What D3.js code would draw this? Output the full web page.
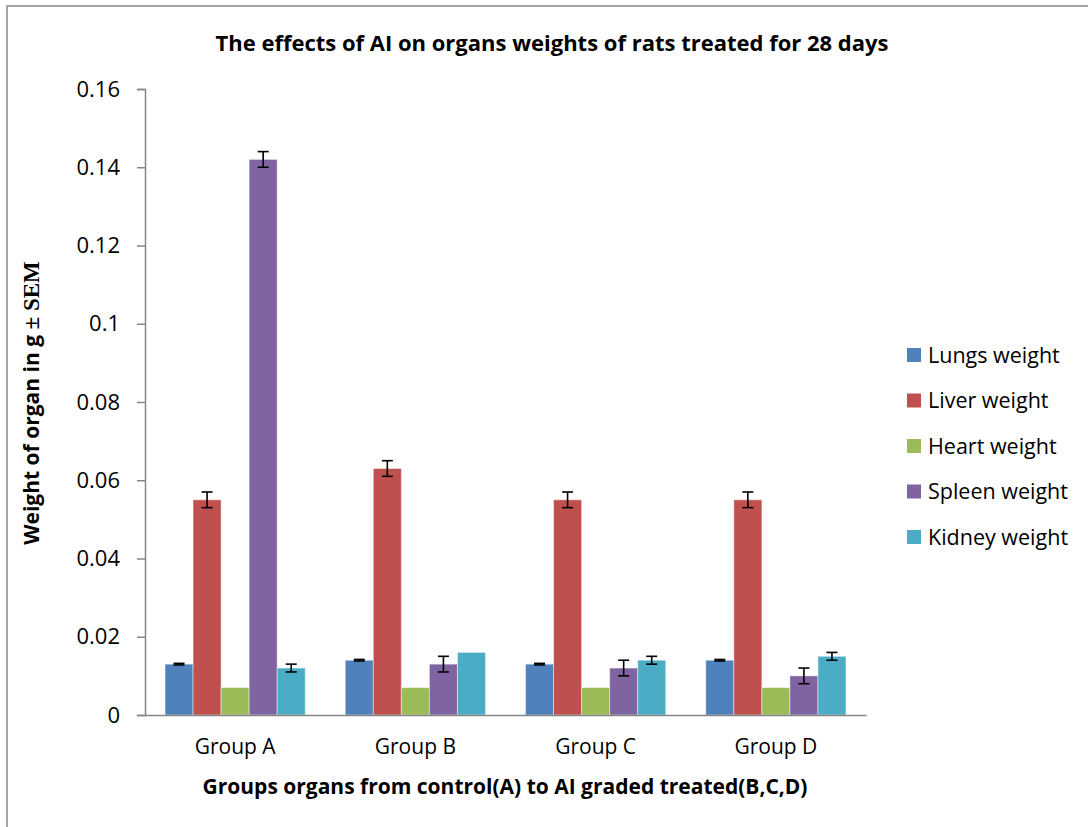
<!DOCTYPE html>
<html>
<head>
<meta charset="utf-8">
<script src="https://cdn.jsdelivr.net/npm/d3@7"></script>
<style>
  body { margin: 0; background: #fff; }
  text { font-family: "Open Sans", Lato, sans-serif; fill: #000; }
</style>
</head>
<body>
<div id="chart"></div>
<script>
// groups on the x axis
var groups = ["Group A", "Group B", "Group C", "Group D"];
// organ series
var organs = ["Lungs weight", "Liver weight", "Heart weight", "Spleen weight", "Kidney weight"];
var organColors = ["#4F81BD", "#C0504D", "#9BBB59", "#8064A2", "#4BACC6"];

// mean weights (g), one array per organ, in group order
var lungs  = [0.013, 0.014, 0.013, 0.014];
var liver  = [0.055, 0.063, 0.055, 0.055];
var heart  = [0.007, 0.007, 0.007, 0.007];
var spleen = [0.142, 0.013, 0.012, 0.010];
var kidney = [0.012, 0.016, 0.014, 0.015];

// SEM for each bar
var lungsSem  = [0.0002, 0.0002, 0.0002, 0.0002];
var liverSem  = [0.002, 0.002, 0.002, 0.002];
var heartSem  = [0, 0, 0, 0];
var spleenSem = [0.002, 0.002, 0.002, 0.002];
var kidneySem = [0.001, 0, 0.001, 0.001];

var yTicks = [0, 0.02, 0.04, 0.06, 0.08, 0.1, 0.12, 0.14, 0.16];

var values = [lungs, liver, heart, spleen, kidney];
var sems = [lungsSem, liverSem, heartSem, spleenSem, kidneySem];

var width = 1088, height = 827;
var margin = { top: 89, right: 222, bottom: 112, left: 145 };

var svg = d3.select("#chart")
  .append("svg")
  .attr("width", width)
  .attr("height", height);

// chart area border
svg.append("rect")
  .attr("x", 7)
  .attr("y", 6)
  .attr("width", width + 20)
  .attr("height", height + 20)
  .attr("fill", "none")
  .attr("stroke", "#888")
  .attr("stroke-width", 1.5);

var x0 = d3.scaleBand()
  .domain(groups)
  .range([margin.left, width - margin.right]);

var x1 = d3.scaleBand()
  .domain(organs)
  .range([0, x0.bandwidth()])
  .paddingOuter(0.714);

var y = d3.scaleLinear()
  .domain([0, 0.16])
  .range([height - margin.bottom, margin.top]);

// y axis
var yAxis = svg.append("g")
  .attr("transform", "translate(" + margin.left + ",0)")
  .call(d3.axisLeft(y).tickValues(yTicks).tickSize(8).tickPadding(17)
    .tickFormat(function (d) { return d === 0 ? "0" : String(+d.toFixed(2)); }));
yAxis.select(".domain").attr("stroke", "#868686").attr("stroke-width", 1.5);
yAxis.selectAll(".tick line").attr("stroke", "#868686").attr("stroke-width", 1.5);
yAxis.selectAll(".tick text").style("font-size", "22px").attr("fill", "#000");

// bars
var series = svg.selectAll(".series")
  .data(organs)
  .enter().append("g")
  .attr("class", "series");

series.selectAll("rect")
  .data(function (d, i) {
    return groups.map(function (g, j) {
      return { organ: d, group: g, value: values[i][j], sem: sems[i][j], color: organColors[i] };
    });
  })
  .enter().append("rect")
  .attr("x", function (d) { return x0(d.group) + x1(d.organ); })
  .attr("y", function (d) { return y(d.value); })
  .attr("width", x1.bandwidth())
  .attr("height", function (d) { return y(0) - y(d.value); })
  .attr("fill", function (d) { return d.color; })
  .attr("stroke", "rgba(255,255,255,0.45)")
  .attr("stroke-width", 1);

// error bars
var err = series.selectAll(".err")
  .data(function (d, i) {
    return groups.map(function (g, j) {
      return { organ: d, group: g, value: values[i][j], sem: sems[i][j] };
    }).filter(function (d) { return d.sem > 0; });
  })
  .enter().append("g")
  .attr("class", "err")
  .attr("stroke", "#000")
  .attr("stroke-width", 1.6);

var cx = function (d) { return x0(d.group) + x1(d.organ) + x1.bandwidth() / 2; };
err.append("line")
  .attr("x1", cx).attr("x2", cx)
  .attr("y1", function (d) { return y(d.value + d.sem); })
  .attr("y2", function (d) { return y(d.value - d.sem); });
err.append("line")
  .attr("x1", function (d) { return cx(d) - 5.5; })
  .attr("x2", function (d) { return cx(d) + 5.5; })
  .attr("y1", function (d) { return y(d.value + d.sem); })
  .attr("y2", function (d) { return y(d.value + d.sem); });
err.append("line")
  .attr("x1", function (d) { return cx(d) - 5.5; })
  .attr("x2", function (d) { return cx(d) + 5.5; })
  .attr("y1", function (d) { return y(d.value - d.sem); })
  .attr("y2", function (d) { return y(d.value - d.sem); });

// x axis
var xAxis = svg.append("g")
  .attr("transform", "translate(0," + y(0) + ")")
  .call(d3.axisBottom(x0).tickSize(0).tickPadding(24));
xAxis.select(".domain").attr("stroke", "#868686").attr("stroke-width", 1.5);
xAxis.selectAll(".tick text").style("font-size", "21px").attr("fill", "#000");

// title
svg.append("text")
  .attr("x", 552)
  .attr("y", 51)
  .attr("text-anchor", "middle")
  .style("font-size", "22px")
  .style("font-weight", "bold")
  .text("The effects of AI on organs weights of rats treated for 28 days");

// x axis title
svg.append("text")
  .attr("x", 505)
  .attr("y", 794)
  .attr("text-anchor", "middle")
  .style("font-size", "21px")
  .style("font-weight", "bold")
  .text("Groups organs from control(A) to AI graded treated(B,C,D)");

// y axis title
var yTitle = svg.append("text")
  .attr("transform", "translate(39,403) rotate(-90)")
  .attr("text-anchor", "middle")
  .style("font-size", "21px")
  .style("font-weight", "bold");
yTitle.append("tspan").text("Weight of organ in g ");
yTitle.append("tspan")
  .style("font-family", "'Liberation Serif', 'DejaVu Serif', serif")
  .style("font-size", "23px")
  .text("± SEM");

// legend
var legend = svg.selectAll(".legend")
  .data(organs)
  .enter().append("g")
  .attr("class", "legend")
  .attr("transform", function (d, i) { return "translate(907," + (355 + i * 45.5) + ")"; });

legend.append("rect")
  .attr("y", -7)
  .attr("width", 14)
  .attr("height", 14)
  .attr("fill", function (d, i) { return organColors[i]; });

legend.append("text")
  .attr("x", 21)
  .attr("dy", "0.35em")
  .style("font-size", "21.5px")
  .text(function (d) { return d; });
</script>
</body>
</html>
